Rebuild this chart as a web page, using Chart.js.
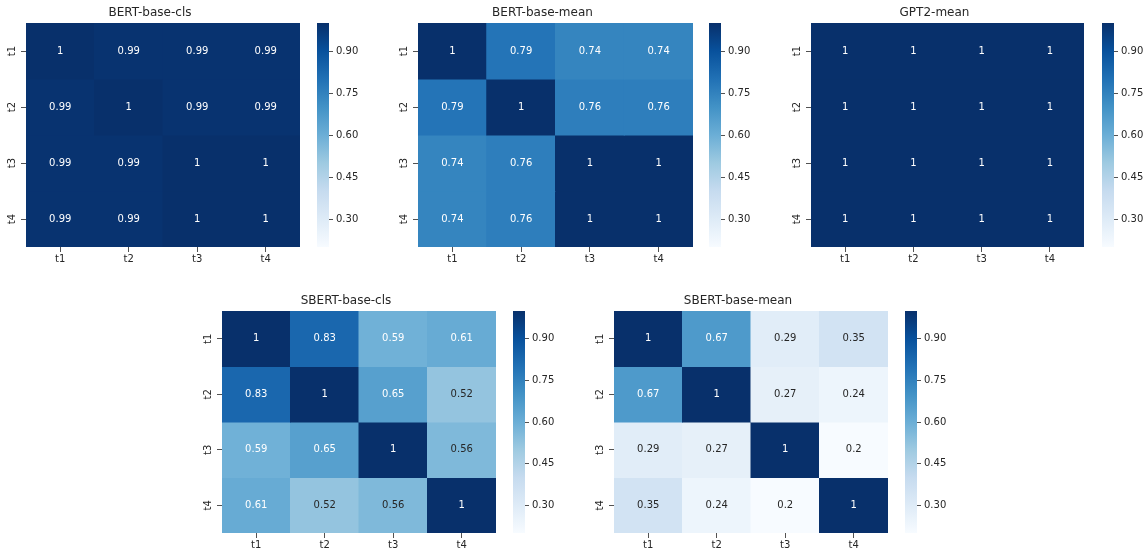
<!DOCTYPE html>
<html>
<head>
<meta charset="utf-8">
<title>Similarity heatmaps</title>
<script src="https://cdn.jsdelivr.net/npm/chart.js@4.4.1/dist/chart.umd.min.js"></script>
<style>
  body { margin: 0; background: #fff; }
  #wrap { position: relative; width: 1146px; height: 550px; overflow: hidden; }
  .box { position: absolute; }
</style>
</head>
<body>
<div id="wrap"></div>
<script>
// --- data ---
const terms = ['t1', 't2', 't3', 't4'];

const bertBaseCls = [
  [1, 0.99, 0.99, 0.99],
  [0.99, 1, 0.99, 0.99],
  [0.99, 0.99, 1, 1],
  [0.99, 0.99, 1, 1]
];
const bertBaseMean = [
  [1, 0.79, 0.74, 0.74],
  [0.79, 1, 0.76, 0.76],
  [0.74, 0.76, 1, 1],
  [0.74, 0.76, 1, 1]
];
const gpt2Mean = [
  [1, 1, 1, 1],
  [1, 1, 1, 1],
  [1, 1, 1, 1],
  [1, 1, 1, 1]
];
const sbertBaseCls = [
  [1, 0.83, 0.59, 0.61],
  [0.83, 1, 0.65, 0.52],
  [0.59, 0.65, 1, 0.56],
  [0.61, 0.52, 0.56, 1]
];
const sbertBaseMean = [
  [1, 0.67, 0.29, 0.35],
  [0.67, 1, 0.27, 0.24],
  [0.29, 0.27, 1, 0.2],
  [0.35, 0.24, 0.2, 1]
];

const colorbarTicks = [0.30, 0.45, 0.60, 0.75, 0.90];
const vmin = 0.2;
const vmax = 1.0;

// matplotlib "Blues"
const blues = ['#f7fbff', '#deebf7', '#c6dbef', '#9ecae1', '#6baed6',
               '#4292c6', '#2171b5', '#08519c', '#08306b'];

Chart.defaults.font.family = '"DejaVu Sans", sans-serif';
Chart.defaults.font.size = 10;
Chart.defaults.color = '#262626';

function hexToRgb(h) {
  return [parseInt(h.slice(1, 3), 16), parseInt(h.slice(3, 5), 16), parseInt(h.slice(5, 7), 16)];
}

function bluesRgb(v) {
  let t = (v - vmin) / (vmax - vmin);
  t = Math.max(0, Math.min(1, t));
  const pos = t * (blues.length - 1);
  const i = Math.min(Math.floor(pos), blues.length - 2);
  const f = pos - i;
  const a = hexToRgb(blues[i]), b = hexToRgb(blues[i + 1]);
  return a.map((c, k) => Math.round(c + (b[k] - c) * f));
}

function bluesCss(v) {
  const c = bluesRgb(v);
  return 'rgb(' + c.join(',') + ')';
}

// seaborn picks dark text on light cells
function textColor(v) {
  const lin = bluesRgb(v).map(c => {
    c = c / 255;
    return c <= 0.03928 ? c / 12.92 : Math.pow((c + 0.055) / 1.055, 2.4);
  });
  const lum = 0.2126 * lin[0] + 0.7152 * lin[1] + 0.0722 * lin[2];
  return lum > 0.408 ? '#262626' : '#ffffff';
}

function fmt(v) {
  return String(Number(v.toPrecision(2)));
}

const annotatePlugin = {
  id: 'annotate',
  afterDatasetsDraw(chart) {
    const c = chart.ctx;
    c.save();
    c.font = '10px "DejaVu Sans", sans-serif';
    c.textAlign = 'center';
    c.textBaseline = 'middle';
    chart.data.datasets.forEach((ds, di) => {
      chart.getDatasetMeta(di).data.forEach((bar, j) => {
        const v = ds.values[j];
        const p = bar.getProps(['x', 'y', 'base'], true);
        c.fillStyle = textColor(v);
        c.fillText(fmt(v), p.x, (p.y + p.base) / 2);
      });
    });
    c.restore();
  }
};

const panels = [
  { title: 'BERT-base-cls',   values: bertBaseCls,   left: 26,  top: 23,  w: 274, h: 224, cb: 317 },
  { title: 'BERT-base-mean',  values: bertBaseMean,  left: 418, top: 23,  w: 275, h: 224, cb: 709 },
  { title: 'GPT2-mean',       values: gpt2Mean,      left: 811, top: 23,  w: 273, h: 224, cb: 1102 },
  { title: 'SBERT-base-cls',  values: sbertBaseCls,  left: 222, top: 311, w: 274, h: 222, cb: 513 },
  { title: 'SBERT-base-mean', values: sbertBaseMean, left: 614, top: 311, w: 274, h: 222, cb: 905 }
];

const Y_AXIS_W = 26;
const TITLE_H = 23;
const X_AXIS_H = 24;
const wrap = document.getElementById('wrap');

function addBox(left, top, width, height) {
  const div = document.createElement('div');
  div.className = 'box';
  div.style.left = left + 'px';
  div.style.top = top + 'px';
  div.style.width = width + 'px';
  div.style.height = height + 'px';
  const canvas = document.createElement('canvas');
  div.appendChild(canvas);
  wrap.appendChild(div);
  return canvas;
}

function drawHeatmap(p) {
  const canvas = addBox(p.left - Y_AXIS_W, p.top - TITLE_H, p.w + Y_AXIS_W, p.h + TITLE_H + X_AXIS_H);
  const datasets = p.values.map((row, r) => ({
    data: row.map(() => [r, r + 1]),
    values: row,
    backgroundColor: row.map(v => bluesCss(v)),
    borderWidth: 0,
    inflateAmount: 0.5,
    barPercentage: 1,
    categoryPercentage: 1,
    grouped: false
  }));

  new Chart(canvas, {
    type: 'bar',
    data: { labels: terms, datasets: datasets },
    options: {
      responsive: true,
      maintainAspectRatio: false,
      animation: false,
      layout: { padding: 0 },
      plugins: {
        legend: { display: false },
        tooltip: { enabled: false },
        title: {
          display: true,
          text: p.title,
          color: '#262626',
          font: { size: 12, weight: 'normal' },
          padding: { top: 6, bottom: 2.6 }
        }
      },
      scales: {
        x: {
          grid: { drawOnChartArea: false, offset: false, tickLength: 5, tickColor: '#262626', tickWidth: 0.8 },
          border: { display: false },
          ticks: { padding: 1, color: '#262626' },
          afterFit(scale) { scale.height = X_AXIS_H; }
        },
        y: {
          type: 'linear',
          min: 0,
          max: 4,
          reverse: true,
          grid: { drawOnChartArea: false, tickLength: 5, tickColor: '#262626', tickWidth: 0.8 },
          border: { display: false },
          afterBuildTicks(scale) {
            scale.ticks = terms.map((t, i) => ({ value: i + 0.5 }));
          },
          ticks: {
            minRotation: 90,
            maxRotation: 90,
            crossAlign: 'center',
            padding: 3,
            color: '#262626',
            callback: (v, i) => terms[i]
          },
          afterFit(scale) { scale.width = Y_AXIS_W; }
        }
      }
    },
    plugins: [annotatePlugin]
  });
}

function drawColorbar(p) {
  const pad = 10;
  const canvas = addBox(p.cb, p.top - pad, 60, p.h + 2 * pad);
  new Chart(canvas, {
    type: 'bar',
    data: {
      labels: [''],
      datasets: [{
        data: [[vmin, vmax]],
        backgroundColor(ctx) {
          const area = ctx.chart.chartArea;
          if (!area) return blues[8];
          const g = ctx.chart.ctx.createLinearGradient(0, area.bottom, 0, area.top);
          blues.forEach((c, i) => g.addColorStop(i / (blues.length - 1), c));
          return g;
        },
        borderWidth: 0,
        barPercentage: 1,
        categoryPercentage: 1
      }]
    },
    options: {
      responsive: true,
      maintainAspectRatio: false,
      animation: false,
      layout: { padding: { top: pad, bottom: pad, left: 0, right: 0 } },
      plugins: { legend: { display: false }, tooltip: { enabled: false } },
      scales: {
        x: { display: false },
        y: {
          type: 'linear',
          position: 'right',
          min: vmin,
          max: vmax,
          grid: { drawOnChartArea: false, tickLength: 4, tickColor: '#262626', tickWidth: 0.8 },
          border: { display: false },
          afterBuildTicks(scale) {
            scale.ticks = colorbarTicks.map(v => ({ value: v }));
          },
          ticks: {
            padding: 3,
            color: '#262626',
            callback: v => v.toFixed(2)
          },
          afterFit(scale) { scale.width = 48; }
        }
      }
    }
  });
}

panels.forEach(p => {
  drawHeatmap(p);
  drawColorbar(p);
});
</script>
</body>
</html>
